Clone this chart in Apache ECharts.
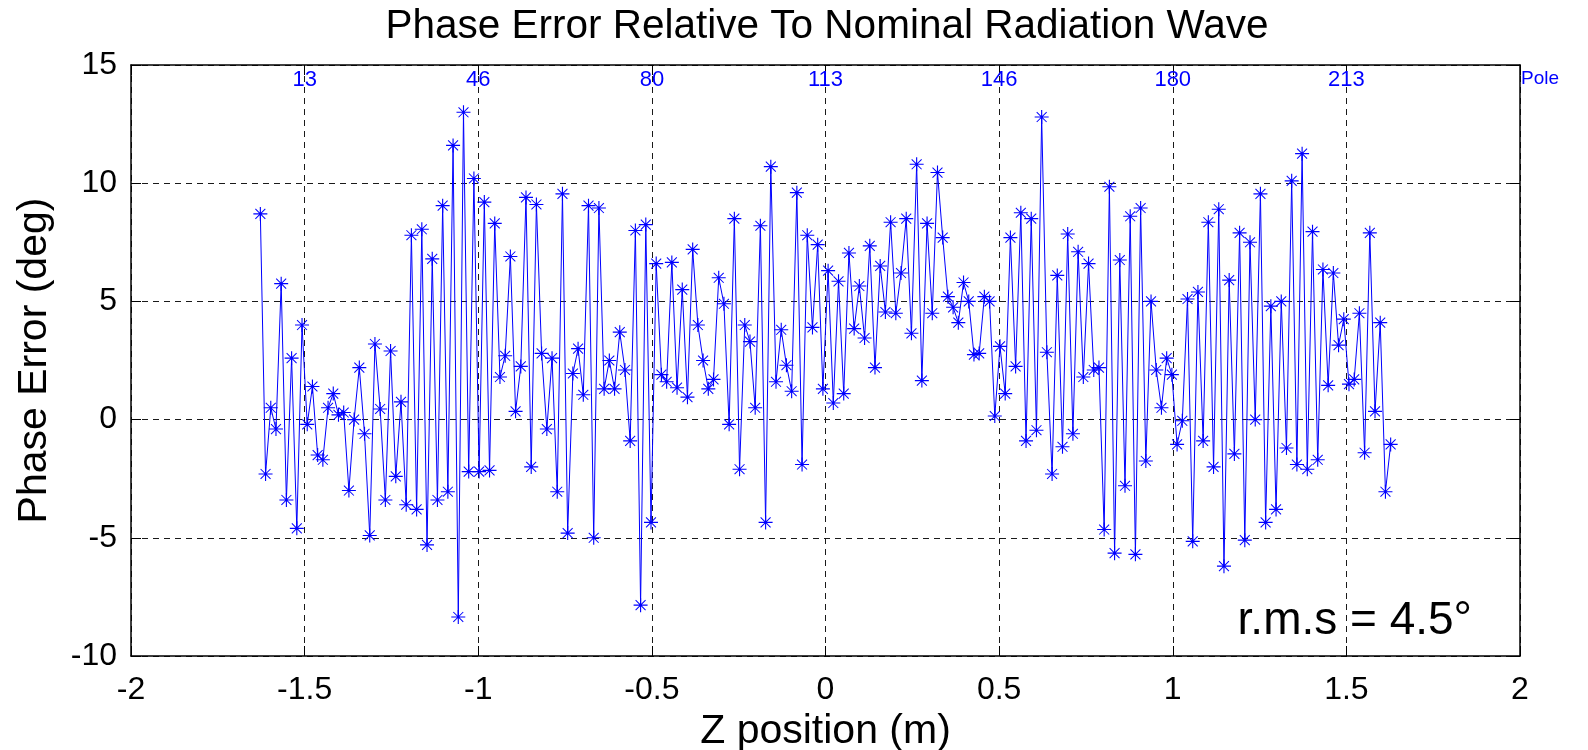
<!DOCTYPE html>
<html><head><meta charset="utf-8">
<script src="https://cdn.jsdelivr.net/npm/echarts@6/dist/echarts.min.js"></script>
<style>html,body{margin:0;padding:0;background:#fff}#c{width:1588px;height:750px}</style>
</head><body><div id="c"></div>
<script>
const chartTitle = 'Phase Error Relative To Nominal Radiation Wave';
const xAxisName = 'Z position (m)';
const yAxisName = 'Phase Error (deg)';
const xTickLabels = ['-2', '-1.5', '-1', '-0.5', '0', '0.5', '1', '1.5', '2'];
const yTickLabels = ['-10', '-5', '0', '5', '10', '15'];
const poleLabels = ['', '13', '46', '80', '113', '146', '180', '213', 'Pole'];
const rmsText = 'r.m.s = 4.5\u00B0';

// pole geometry: first plotted pole, pole at z = 0, pole pitch (m)
const firstPole = 4.5;
const centerPole = 113;
const polePitch = 0.015;

// phase error (deg) per pole
const phaseError = [
  8.7, -2.3, 0.5, -0.4, 5.75, -3.4, 2.6, -4.6, 4.0, -0.2,
  1.4, -1.5, -1.7, 0.5, 1.1, 0.2, 0.3, -3.0, 0.0, 2.2,
  -0.6, -4.9, 3.2, 0.45, -3.4, 2.9, -2.4, 0.75, -3.6, 7.8,
  -3.8, 8.05, -5.3, 6.8, -3.4, 9.05, -3.05, 11.6, -8.35, 13.0,
  -2.2, 10.2, -2.2, 9.2, -2.15, 8.3, 1.8, 2.7, 6.9, 0.35,
  2.25, 9.4, -2.0, 9.1, 2.8, -0.4, 2.6, -3.05, 9.55, -4.8,
  1.95, 3.0, 1.05, 9.05, -5.0, 8.95, 1.3, 2.5, 1.3, 3.7,
  2.1, -0.9, 8.0, -7.85, 8.25, -4.35, 6.6, 1.9, 1.6, 6.65,
  1.35, 5.5, 0.95, 7.2, 4.0, 2.5, 1.3, 1.7, 6.0, 4.9,
  -0.2, 8.5, -2.1, 4.0, 3.3, 0.5, 8.2, -4.35, 10.7, 1.6,
  3.8, 2.3, 1.2, 9.6, -1.9, 7.8, 3.9, 7.4, 1.3, 6.3,
  0.7, 5.85, 1.1, 7.05, 3.85, 5.65, 3.45, 7.35, 2.2, 6.5,
  4.55, 8.35, 4.5, 6.2, 8.5, 3.65, 10.8, 1.65, 8.3, 4.5,
  10.45, 7.7, 5.2, 4.75, 4.1, 5.8, 5.0, 2.75, 2.8, 5.2,
  5.0, 0.15, 3.1, 1.1, 7.7, 2.25, 8.75, -0.9, 8.5, -0.45,
  12.8, 2.85, -2.3, 6.1, -1.15, 7.85, -0.6, 7.1, 1.8, 6.6,
  2.1, 2.2, -4.65, 9.85, -5.65, 6.75, -2.8, 8.6, -5.7, 8.95,
  -1.75, 5.0, 2.1, 0.5, 2.6, 1.9, -1.05, -0.05, 5.1, -5.15,
  5.4, -0.9, 8.35, -2.0, 8.9, -6.2, 5.9, -1.45, 7.9, -5.1,
  7.5, 0.0, 9.55, -4.35, 4.8, -3.8, 5.0, -1.2, 10.1, -1.9,
  11.25, -2.1, 7.95, -1.7, 6.35, 1.45, 6.2, 3.15, 4.25, 1.5,
  1.7, 4.5, -1.4, 7.9, 0.35, 4.1, -3.05, -1.05
];

const seriesData = phaseError.map((v, i) => [(firstPole + i - centerPole) * polePitch, v]);

const FONT = "'Liberation Sans', Arial, Helvetica, sans-serif";
const asterisk = 'path://M0,46H100V54H0Z M46,0H54V100H46Z M12,17L17,12L88,83L83,88Z M83,12L88,17L17,88L12,83Z';
const gridDash = { color: '#1a1a1a', type: [6, 5], width: 1 };
const boxLine = { show: true, onZero: false, lineStyle: { color: '#000', width: 1.5 } };
const inTick = { show: true, inside: true, length: 10, lineStyle: { color: '#000' } };

const chart = echarts.init(document.getElementById('c'), null, { renderer: 'canvas' });
chart.setOption({
  animation: false,
  backgroundColor: '#fff',
  title: {
    text: chartTitle, left: 822, top: 1, textAlign: 'center',
    textStyle: { fontFamily: FONT, fontSize: 40.5, fontWeight: 'normal', color: '#000' }
  },
  grid: { left: 131, right: 68, top: 65, bottom: 94, outerBoundsMode: 'none', containLabel: false },
  xAxis: [{
    type: 'value', min: -2, max: 2, interval: 0.5, position: 'bottom',
    name: xAxisName, nameLocation: 'middle', nameGap: 51,
    nameTextStyle: { fontFamily: FONT, fontSize: 41, color: '#000' },
    axisLine: boxLine,
    axisTick: inTick,
    axisLabel: {
      fontFamily: FONT, fontSize: 32, color: '#000', margin: 18,
      formatter: v => xTickLabels[Math.round((v + 2) / 0.5)]
    },
    splitLine: { show: true, lineStyle: gridDash }
  }, {
    type: 'value', min: -2, max: 2, interval: 0.5, position: 'top',
    axisLine: boxLine,
    axisTick: inTick,
    axisLabel: {
      inside: true, margin: 4, fontFamily: FONT, fontSize: 22, color: '#0000ff',
      formatter: v => {
        const s = poleLabels[Math.round((v + 2) / 0.5)];
        return s === 'Pole' ? '{p|' + s + '}' : s;
      },
      rich: { p: { fontFamily: FONT, fontSize: 19, color: '#0000ff', padding: [0, 0, 0, 40] } }
    },
    splitLine: { show: false }
  }],
  yAxis: [{
    type: 'value', min: -10, max: 15, interval: 5, position: 'left',
    name: yAxisName, nameLocation: 'middle', nameGap: 76, nameRotate: 90,
    nameTextStyle: { fontFamily: FONT, fontSize: 41, color: '#000' },
    axisLine: boxLine,
    axisTick: inTick,
    axisLabel: {
      fontFamily: FONT, fontSize: 32, color: '#000', margin: 14,
      formatter: v => yTickLabels[Math.round((v + 10) / 5)]
    },
    splitLine: { show: true, lineStyle: gridDash }
  }, {
    type: 'value', min: -10, max: 15, interval: 5, position: 'right',
    axisLine: boxLine,
    axisTick: inTick,
    axisLabel: { show: false },
    splitLine: { show: false }
  }],
  graphic: [{
    type: 'text', right: 116, bottom: 106,
    style: { text: rmsText, font: '46px ' + FONT, fill: '#000' }
  }],
  series: [{
    type: 'line', xAxisIndex: 0, yAxisIndex: 0,
    data: seriesData,
    showSymbol: true, showAllSymbol: true,
    symbol: asterisk, symbolSize: 14,
    lineStyle: { color: '#0000ff', width: 1 },
    itemStyle: { color: '#0000ff', borderWidth: 0 },
    emphasis: { disabled: true }
  }]
});
</script>
</body></html>
